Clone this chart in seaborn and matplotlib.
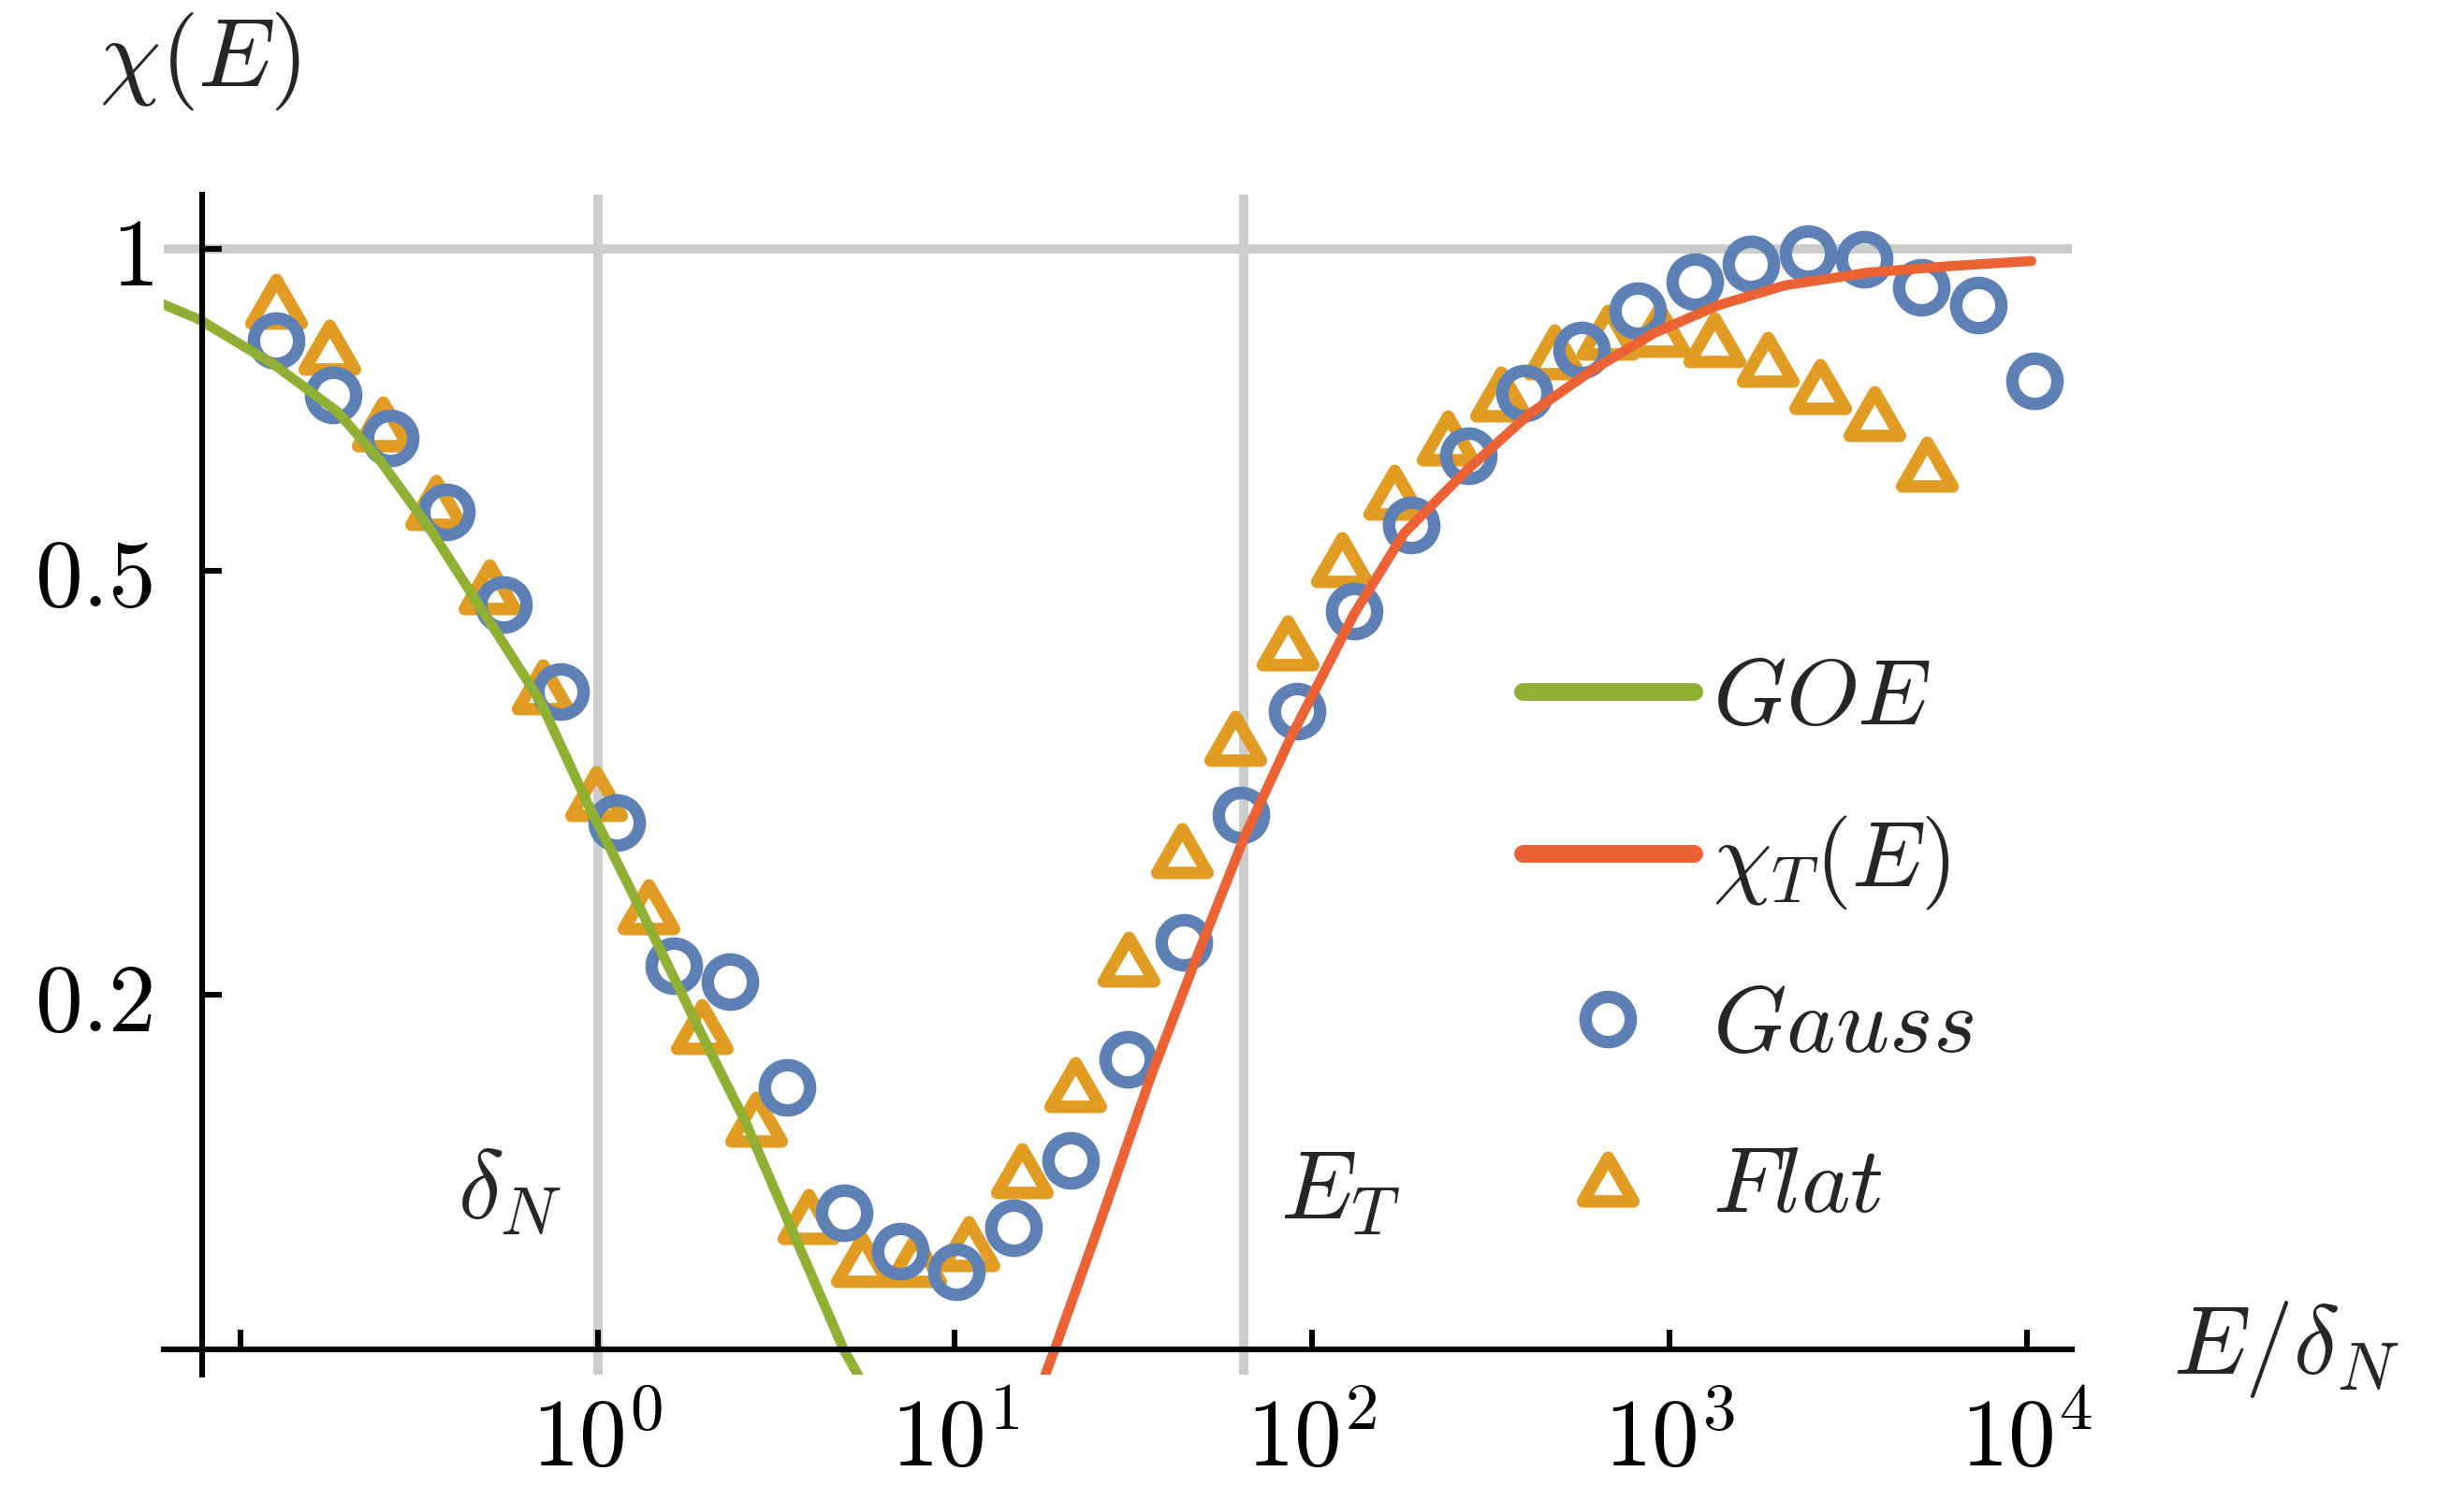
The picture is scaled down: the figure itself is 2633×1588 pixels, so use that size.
import matplotlib
matplotlib.use("Agg")
import matplotlib.pyplot as plt
import seaborn as sns
from matplotlib.markers import MarkerStyle
from matplotlib.path import Path
from matplotlib.ticker import FixedLocator, NullLocator

# values (log-log)
gauss_x = [0.126, 0.182, 0.262, 0.378, 0.544, 0.785, 1.13, 1.63, 2.35, 3.39, 4.89,
           7.04, 10.1, 14.6, 21.1, 30.4, 43.8, 63.1, 90.9, 131, 189, 273, 393, 566,
           817, 1175, 1695, 2443, 3516, 5073, 7312, 10550]
gauss_y = [0.821, 0.731, 0.665, 0.567, 0.465, 0.385, 0.290, 0.213, 0.206, 0.164, 0.125,
           0.115, 0.110, 0.121, 0.140, 0.174, 0.224, 0.295, 0.369, 0.458, 0.551, 0.641,
           0.733, 0.805, 0.875, 0.933, 0.969, 0.991, 0.979, 0.922, 0.887, 0.752]

flat_x = [0.126, 0.177, 0.250, 0.352, 0.497, 0.701, 0.988, 1.39, 1.96, 2.77, 3.90,
          5.50, 7.75, 10.9, 15.4, 21.7, 30.6, 43.1, 60.8, 85.6, 121, 170, 240, 338,
          477, 672, 939, 1333, 1882, 2650, 3740, 5266]
flat_y = [0.893, 0.809, 0.686, 0.579, 0.483, 0.389, 0.309, 0.242, 0.187, 0.153, 0.124,
          0.113, 0.113, 0.117, 0.137, 0.165, 0.216, 0.273, 0.348, 0.428, 0.512, 0.592,
          0.665, 0.732, 0.801, 0.836, 0.841, 0.822, 0.788, 0.744, 0.702, 0.629]

goe_x = [0.0603, 0.0768, 0.1245, 0.1861, 0.2466, 0.3402, 0.4886, 0.688, 0.930,
         1.391, 1.918, 2.594, 3.516, 4.886, 5.353]
goe_y = [0.889, 0.859, 0.779, 0.705, 0.633, 0.546, 0.452, 0.378, 0.304,
         0.232, 0.186, 0.152, 0.120, 0.0930, 0.0881]

chiT_x = [17.9, 19.0, 25.5, 35.4, 47.9, 64.8, 87.6, 131, 181, 270, 404, 604, 903,
          1369, 2106, 3609, 6050, 10318]
chiT_y = [0.0881, 0.0930, 0.1225, 0.168, 0.2185, 0.282, 0.350, 0.455, 0.542, 0.620,
          0.700, 0.769, 0.834, 0.886, 0.925, 0.951, 0.964, 0.975]

x_ticks = [0.1, 1, 10, 100, 1000, 10000]
x_ticklabels = ["", "$10^{0}$", "$10^{1}$", "$10^{2}$", "$10^{3}$", "$10^{4}$"]
y_ticks = [0.2, 0.5, 1]
y_ticklabels = ["$0.2$", "$0.5$", "$1$"]

E_N = 1.0     # delta_N marker line
E_T = 64.5    # Thouless energy marker line

blue = "#5E81B5"
orange = "#E19C24"
green = "#8FB032"
red = "#EB6235"

sns.set_style("white")
plt.rcParams["mathtext.fontset"] = "cm"

fig = plt.figure(figsize=(13.165, 7.94), dpi=200)
ax = fig.add_axes([0.0665, 0.0751, 0.7744, 0.7939])
ax.set_xscale("log")
ax.set_yscale("log")

grid_kw = dict(color="#cccccc", lw=3.6, zorder=0)
ax.axvline(E_N, **grid_kw)
ax.axvline(E_T, **grid_kw)
ax.axhline(1, **grid_kw)

tri = MarkerStyle(Path([(0, 0.75), (-0.866, -0.75), (0.866, -0.75), (0, 0.75)],
                       [Path.MOVETO, Path.LINETO, Path.LINETO, Path.CLOSEPOLY]),
                  joinstyle="miter")

sns.lineplot(x=flat_x, y=flat_y, ax=ax, marker=tri, linestyle="", ms=19.4,
             mfc="none", mec=orange, mew=4.8, color=orange, zorder=3, label="$Flat$")
sns.lineplot(x=gauss_x, y=gauss_y, ax=ax, marker="o", linestyle="", ms=17.4,
             mfc="none", mec=blue, mew=4.8, color=blue, zorder=4, label="$Gauss$")
sns.lineplot(x=goe_x, y=goe_y, ax=ax, color=green, lw=3.8, zorder=5, label="$GOE$")
sns.lineplot(x=chiT_x, y=chiT_y, ax=ax, color=red, lw=3.8, zorder=5,
             label=r"$\chi_T(E)$")

ax.set_xlim(0.061, 13400)
ax.set_ylim(0.0882, 1.125)
ax.set_xlabel("")
ax.set_ylabel("")

for s in ["top", "right"]:
    ax.spines[s].set_visible(False)
ax.spines["left"].set_position(("data", 0.0782))
ax.spines["bottom"].set_position(("data", 0.0930))
for s in ["left", "bottom"]:
    ax.spines[s].set_linewidth(2.2)
    ax.spines[s].set_color("black")
    ax.spines[s].set_zorder(6)

ax.xaxis.set_major_locator(FixedLocator(x_ticks))
ax.xaxis.set_minor_locator(NullLocator())
ax.set_xticklabels(x_ticklabels)
ax.yaxis.set_major_locator(FixedLocator(y_ticks))
ax.yaxis.set_minor_locator(NullLocator())
ax.set_yticklabels(y_ticklabels)
ax.tick_params(axis="both", which="major", direction="in", length=7.6, width=2.2,
               labelsize=36.5, colors="black", bottom=True, left=True)
ax.tick_params(axis="x", pad=17)
ax.tick_params(axis="y", pad=19)

ax.text(0.565, 0.1234, r"$\delta_N$", fontsize=37, ha="center", va="baseline")
ax.text(120, 0.1234, r"$E_T$", fontsize=37, ha="center", va="baseline")

handles, labels = ax.get_legend_handles_labels()
order = ["$GOE$", r"$\chi_T(E)$", "$Gauss$", "$Flat$"]
hs = [handles[labels.index(l)] for l in order]
leg = ax.legend(hs, order, loc="center left", bbox_to_anchor=(0.712, 0.366),
                frameon=False, fontsize=36, handlelength=1.83, handletextpad=0.2,
                labelspacing=0.74, borderpad=0, borderaxespad=0, numpoints=1)
for line in leg.get_lines():
    line.set_linewidth(6.8)

fig.text(213 / 2633, 1 - 65 / 1588, r"$\chi(E)$", fontsize=37.5, ha="center",
         va="center")
fig.text(2322 / 2633, 1 - 1442 / 1588, r"$E/\delta_N$", fontsize=37.5, ha="left",
         va="center")

fig.savefig("out.png", dpi=200)
